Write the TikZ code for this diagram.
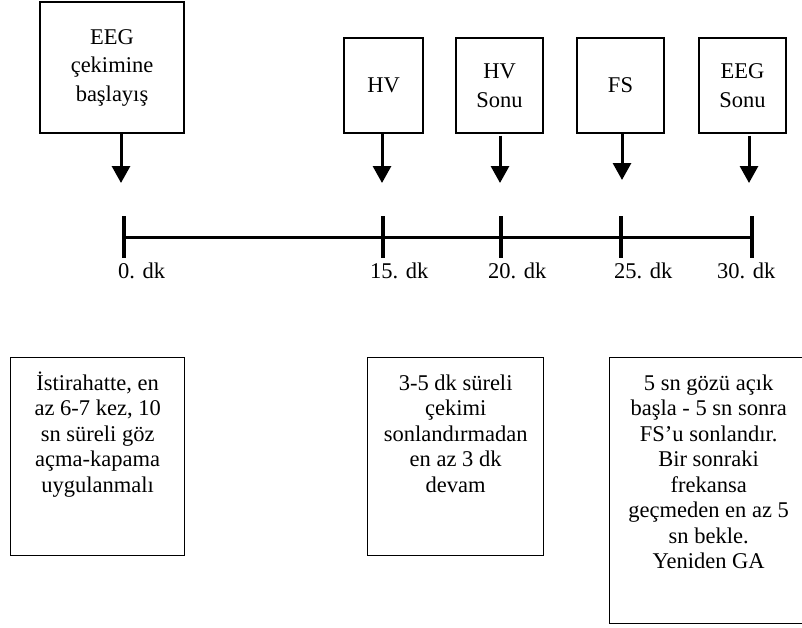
\documentclass[tikz,border=0pt]{standalone}
\usepackage{fontspec}
\setmainfont{Liberation Serif}
\usetikzlibrary{arrows.meta}

\tikzset{
  eventbox/.style={draw, line width=1.3pt, inner sep=0pt, align=center,
    font=\fontsize{22.5}{28.5}\selectfont},
  notebox/.style={draw, line width=1.3pt, inner sep=0pt, anchor=north west},
  notetext/.style={anchor=north, inner sep=0pt, align=center,
    font=\fontsize{22.5}{25.5}\selectfont},
  pointer/.style={line width=3pt, -{Triangle[width=18pt,length=17pt]}},
  axis/.style={line width=3pt},
  tick/.style={line width=3.5pt},
  minute/.style={anchor=base west, inner sep=0pt, font=\fontsize{22.5}{27}\selectfont},
}

\begin{document}
\begin{tikzpicture}[x=1pt,y=-1pt]
\useasboundingbox (0,0) rectangle (802,627);

% Event boxes
\node[eventbox, minimum width=144pt, minimum height=131pt] (start) at (112,67.5) {EEG\\çekimine\\başlayış};
\node[eventbox, minimum width=79pt, minimum height=95pt] (hv) at (383.5,85.5) {HV};
\node[eventbox, minimum width=87pt, minimum height=95pt] (hvend) at (499.5,85.5) {HV\\Sonu};
\node[eventbox, minimum width=87pt, minimum height=95pt] (fs) at (620.5,85.5) {FS};
\node[eventbox, minimum width=87pt, minimum height=95pt] (eegend) at (742.5,85.5) {EEG\\Sonu};

% Arrow tips
\coordinate (a0) at (121,183);
\coordinate (a1) at (382,183);
\coordinate (a2) at (500,183);
\coordinate (a3) at (622,180);
\coordinate (a4) at (749,183);

\draw[pointer] (start.south -| a0) -- (a0);
\draw[pointer] (hv.south -| a1) -- (a1);
\draw[pointer] ([yshift=-2pt]hvend.south -| a2) -- (a2);
\draw[pointer] (fs.south -| a3) -- (a3);
\draw[pointer] ([yshift=-2pt]eegend.south -| a4) -- (a4);

% Time line
\coordinate (t0) at (124,237);
\coordinate (t1) at (383,237);
\coordinate (t2) at (501,237);
\coordinate (t3) at (621,237);
\coordinate (t4) at (752,237);
\draw[axis] (t0) -- (t4);
\foreach \t in {t0,t1,t2,t3,t4}
  \draw[tick] (\t) ++(0,-21) -- ++(0,42);

\node[minute] (m0) at (118,278) {0. dk};
\node[minute] (m1) at (370,278) {15. dk};
\node[minute] (m2) at (488,278) {20. dk};
\node[minute] (m3) at (614,278) {25. dk};
\node[minute] (m4) at (717,278) {30. dk};

% Notes
\node[notebox, minimum width=174pt, minimum height=198pt] (rest) at (10,357) {};
\node[notetext] (resttext) at ([yshift=-13pt]rest.north) {\rule{0pt}{20pt}İstirahatte, en\\az 6-7 kez, 10\\sn süreli göz\\açma-kapama\\uygulanmalı};

\node[notebox, minimum width=176pt, minimum height=198pt] (hvnote) at (367,357) {};
\node[notetext] (hvtext) at ([yshift=-13pt]hvnote.north) {\rule{0pt}{20pt}3-5 dk süreli\\çekimi\\sonlandırmadan\\en az 3 dk\\devam};

\node[notebox, minimum width=198pt, minimum height=266pt] (fsnote) at (609,357) {};
\node[notetext] (fstext) at ([yshift=-13pt]fsnote.north) {\rule{0pt}{20pt}5 sn gözü açık\\başla - 5 sn sonra\\FS’u sonlandır.\\Bir sonraki\\frekansa\\geçmeden en az 5\\sn bekle.\\Yeniden GA};

\end{tikzpicture}
\end{document}
